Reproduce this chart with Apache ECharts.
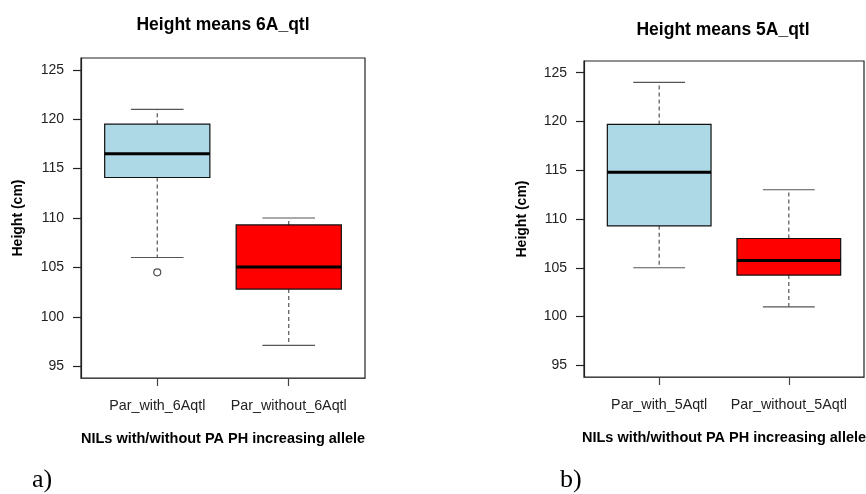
<!DOCTYPE html>
<html>
<head>
<meta charset="utf-8">
<script src="https://cdn.jsdelivr.net/npm/echarts@6/dist/echarts.min.js"></script>
<style>
html,body{margin:0;padding:0;background:#fff;}
#chart{width:866px;height:494px;}
</style>
</head>
<body>
<div id="chart"></div>
<script>
// ---- data ----
const titles = ['Height means 6A_qtl', 'Height means 5A_qtl'];
const panelLabels = ['a)', 'b)'];
const categories6A = ['Par_with_6Aqtl', 'Par_without_6Aqtl'];
const categories5A = ['Par_with_5Aqtl', 'Par_without_5Aqtl'];
const xTitle = 'NILs with/without PA PH increasing allele';
const yTitle = 'Height (cm)';
// [min, Q1, median, Q3, max]
const box6A_with = [106, 114.1, 116.5, 119.5, 121];
const box6A_without = [97.1, 102.8, 105.05, 109.3, 110];
const outliers6A_with = [104.5];
const box5A_with = [105, 109.3, 114.8, 119.7, 124];
const box5A_without = [101, 104.25, 105.75, 108, 113];
const yTicks = [95, 100, 105, 110, 115, 120, 125];
const xPositions = [1, 2];

// ---- styles ----
const boxColors = ['#ADD8E6', '#FF0000'];
const SANS = 'Liberation Sans, Arial, Helvetica, sans-serif';
const SERIF = 'Liberation Serif, Times New Roman, serif';

const chart = echarts.init(document.getElementById('chart'));

function renderBox(params, api) {
  const x = api.value(0);
  const mn = api.value(1), q1 = api.value(2), md = api.value(3), q3 = api.value(4), mx = api.value(5);
  const hb = 0.4, hc = 0.2;
  const p = (xx, yy) => api.coord([xx, yy]);
  const tl = p(x - hb, q3), br = p(x + hb, q1);
  const wc = '#555';
  const line = (a, b, style) => ({ type: 'line', shape: { x1: a[0], y1: a[1], x2: b[0], y2: b[1] }, style: style });
  return {
    type: 'group',
    children: [
      line(p(x, q3), p(x, mx), { stroke: wc, lineWidth: 1.2, lineDash: [4, 3] }),
      line(p(x, q1), p(x, mn), { stroke: wc, lineWidth: 1.2, lineDash: [4, 3] }),
      line(p(x - hc, mx), p(x + hc, mx), { stroke: wc, lineWidth: 1.2 }),
      line(p(x - hc, mn), p(x + hc, mn), { stroke: wc, lineWidth: 1.2 }),
      { type: 'rect', shape: { x: tl[0], y: tl[1], width: br[0] - tl[0], height: br[1] - tl[1] },
        style: { fill: boxColors[params.dataIndex], stroke: '#111', lineWidth: 1.2 } },
      line(p(x - hb, md), p(x + hb, md), { stroke: '#000', lineWidth: 3 })
    ]
  };
}

function xAxisCfg(gi, cats) {
  return {
    gridIndex: gi, type: 'value', min: 0.42, max: 2.58,
    splitLine: { show: false },
    axisLine: { show: true, lineStyle: { color: '#444', width: 1.2 } },
    axisTick: { show: true, customValues: xPositions, length: 8, lineStyle: { color: '#444', width: 1.2 } },
    axisLabel: { customValues: xPositions, formatter: v => cats[Math.round(v) - 1] || '',
      margin: 21, fontSize: 14.3, color: '#222', fontFamily: SANS },
    name: xTitle, nameLocation: 'middle', nameGap: 53,
    nameTextStyle: { fontSize: 14.5, fontWeight: 'bold', color: '#000', fontFamily: SANS }
  };
}
function yAxisCfg(gi, gap) {
  return {
    gridIndex: gi, type: 'value', min: 93.8, max: 126.2,
    splitLine: { show: false },
    axisLine: { show: true, lineStyle: { color: '#222', width: 1.2 } },
    axisTick: { show: true, customValues: yTicks, length: 8, lineStyle: { color: '#222', width: 1.2 } },
    axisLabel: { customValues: yTicks, margin: 17, fontSize: 14, color: '#222', fontFamily: SANS },
    name: yTitle, nameLocation: 'middle', nameGap: gap,
    nameTextStyle: { fontSize: 14, fontWeight: 'bold', color: '#000', fontFamily: SANS }
  };
}

const option = {
  backgroundColor: '#fff',
  animation: false,
  title: [
    { text: titles[0], left: 223, top: 16, textAlign: 'center', padding: 0,
      textStyle: { fontSize: 17.5, fontWeight: 'bold', color: '#000', fontFamily: SANS } },
    { text: titles[1], left: 723, top: 21, textAlign: 'center', padding: 0,
      textStyle: { fontSize: 17.5, fontWeight: 'bold', color: '#000', fontFamily: SANS } },
    { text: panelLabels[0], left: 32, top: 467, padding: 0,
      textStyle: { fontSize: 26, fontWeight: 'normal', color: '#000', fontFamily: SERIF } },
    { text: panelLabels[1], left: 560, top: 467, padding: 0,
      textStyle: { fontSize: 26, fontWeight: 'normal', color: '#000', fontFamily: SERIF } }
  ],
  grid: [
    { left: 81, top: 58, width: 284, height: 320, outerBoundsMode: 'none', containLabel: false,
      show: true, borderColor: '#222', borderWidth: 1.2, backgroundColor: 'transparent' },
    { left: 584, top: 61, width: 280, height: 316, outerBoundsMode: 'none', containLabel: false,
      show: true, borderColor: '#222', borderWidth: 1.2, backgroundColor: 'transparent' }
  ],
  xAxis: [xAxisCfg(0, categories6A), xAxisCfg(1, categories5A)],
  yAxis: [yAxisCfg(0, 56), yAxisCfg(1, 55)],
  series: [
    { type: 'custom', xAxisIndex: 0, yAxisIndex: 0, renderItem: renderBox,
      encode: { x: 0, y: [1, 2, 3, 4, 5] },
      data: [[xPositions[0]].concat(box6A_with), [xPositions[1]].concat(box6A_without)] },
    { type: 'scatter', xAxisIndex: 0, yAxisIndex: 0, symbol: 'circle', symbolSize: 7,
      itemStyle: { color: '#fff', borderColor: '#222', borderWidth: 1.2 },
      data: outliers6A_with.map(v => [xPositions[0], v]) },
    { type: 'custom', xAxisIndex: 1, yAxisIndex: 1, renderItem: renderBox,
      encode: { x: 0, y: [1, 2, 3, 4, 5] },
      data: [[xPositions[0]].concat(box5A_with), [xPositions[1]].concat(box5A_without)] }
  ]
};
chart.setOption(option);
</script>
</body>
</html>
